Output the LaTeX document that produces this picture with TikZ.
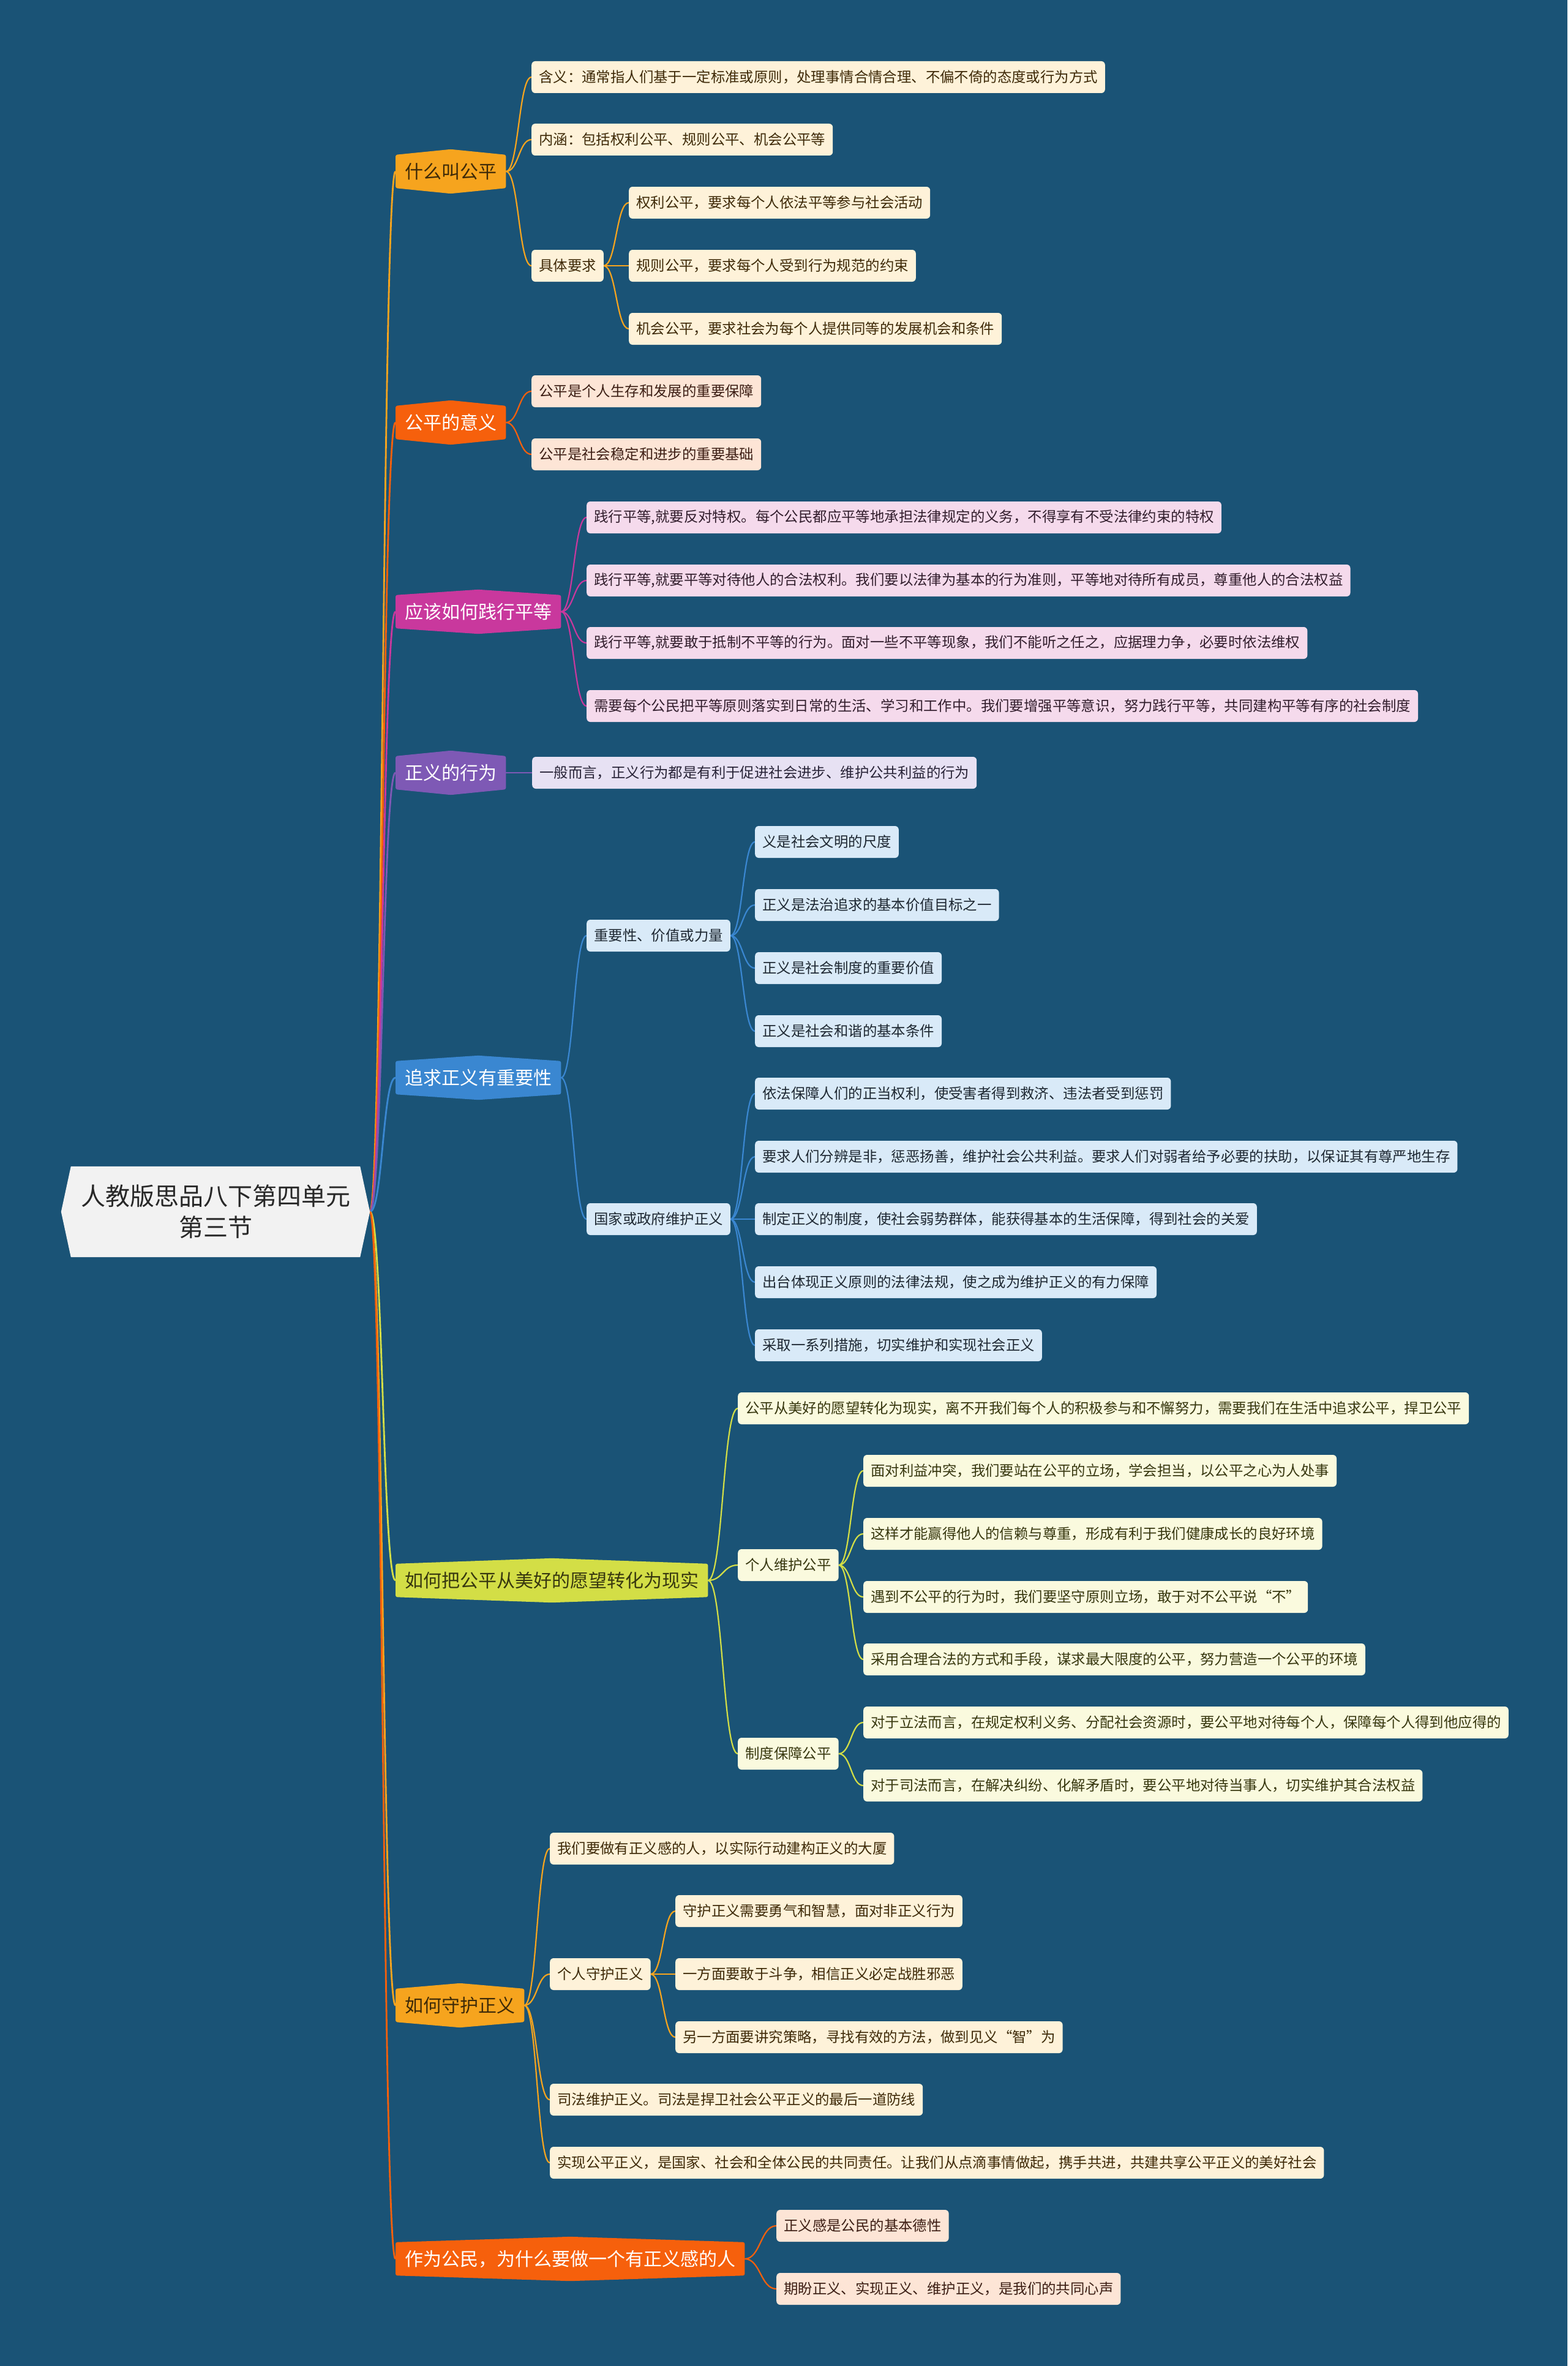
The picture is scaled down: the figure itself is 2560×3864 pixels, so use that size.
\documentclass[tikz,border=0pt]{standalone}
\usepackage{fontspec}
\setmainfont{Noto Sans CJK SC}
\usetikzlibrary{calc}
\pgfdeclarelayer{bg}\pgfdeclarelayer{edges}\pgfdeclarelayer{shapes}
\pgfsetlayers{bg,edges,shapes,main}
\definecolor{bgc}{RGB}{26,83,118}
\definecolor{cOr}{RGB}{246,164,30}
\definecolor{cRd}{RGB}{246,96,12}
\definecolor{cMg}{RGB}{201,56,157}
\definecolor{cPu}{RGB}{126,89,181}
\definecolor{cBl}{RGB}{58,135,209}
\definecolor{cYg}{RGB}{211,222,70}
\definecolor{lOr}{RGB}{254,242,217}
\definecolor{lRd}{RGB}{253,229,214}
\definecolor{lMg}{RGB}{245,218,236}
\definecolor{lPu}{RGB}{231,225,243}
\definecolor{lBl}{RGB}{217,234,248}
\definecolor{lYg}{RGB}{250,250,222}
\definecolor{tOr}{RGB}{62,42,8}
\definecolor{tRd}{RGB}{60,30,20}
\definecolor{tMg}{RGB}{50,30,45}
\definecolor{tPu}{RGB}{40,35,55}
\definecolor{tBl}{RGB}{30,40,50}
\definecolor{tYg}{RGB}{55,55,15}
\definecolor{rootF}{RGB}{242,242,242}
\definecolor{rootT}{RGB}{40,40,40}
\tikzset{
  leaf/.style={rounded corners=6pt, minimum height=52pt, inner xsep=12pt, inner ysep=0pt, anchor=west, font=\fontsize{23.4}{28}\selectfont},
  mainn/.style={minimum height=54pt, inner xsep=15pt, inner ysep=0pt, anchor=west, font=\fontsize{30}{36}\selectfont},
  rl/.style={line width=2.8pt},
  el/.style={line width=2.2pt},
}
\newcommand\mnode[6]{%
  \node[mainn,text=#5] (#1) at (#2,#3) {#6};
  \begin{pgfonlayer}{shapes}
  \fill[#4,rounded corners=3pt] (#1.north west) -- ([yshift=9pt]#1.north) -- (#1.north east) -- (#1.south east) -- ([yshift=-9pt]#1.south) -- (#1.south west) -- cycle;
  \end{pgfonlayer}}
\newcommand\lnk[3]{%
  \begin{pgfonlayer}{edges}
  \coordinate (tmpa) at (#2);
  \coordinate (tmpb) at (#3.west);
  \coordinate (tmpm) at ($(tmpa)!.5!(tmpb)$);
  \draw[#1] (tmpa) .. controls (tmpm |- tmpa) and (tmpm |- tmpb) .. (tmpb);
  \end{pgfonlayer}}
\begin{document}
\begin{tikzpicture}[x=1pt,y=-1pt]
\begin{pgfonlayer}{bg}
\fill[bgc] (0,0) rectangle (2560,3864);
\end{pgfonlayer}
\useasboundingbox (0,0) rectangle (2560,3864);

% root
\node[font=\fontsize{40}{51}\selectfont, align=center, text=rootT, minimum width=472pt, minimum height=148pt, inner sep=0pt] (root) at (352,1979) {人教版思品八下第四单元\\第三节};
\begin{pgfonlayer}{shapes}
\fill[rootF] (root.north west) -- ([xshift=-16pt]root.west) -- (root.south west) -- (root.south east) -- ([xshift=16pt]root.east) -- (root.north east) -- cycle;
\end{pgfonlayer}
\coordinate (rootE) at ([xshift=16pt]root.east);

% main branches
\mnode{m1}{646}{280}{cOr}{tOr}{什么叫公平}
\mnode{m2}{646}{690}{cRd}{white}{公平的意义}
\mnode{m3}{646}{999}{cMg}{white}{应该如何践行平等}
\mnode{m4}{646}{1262}{cPu}{white}{正义的行为}
\mnode{m5}{646}{1760}{cBl}{white}{追求正义有重要性}
\mnode{m6}{646}{2581}{cYg}{tYg}{如何把公平从美好的愿望转化为现实}
\mnode{m7}{646}{3275}{cOr}{tOr}{如何守护正义}
\mnode{m8}{646}{3689}{cRd}{white}{作为公民，为什么要做一个有正义感的人}

% group 1
\node[leaf,fill=lOr,text=tOr] (a1) at (868,126) {含义：通常指人们基于一定标准或原则，处理事情合情合理、不偏不倚的态度或行为方式};
\node[leaf,fill=lOr,text=tOr] (a2) at (868,228) {内涵：包括权利公平、规则公平、机会公平等};
\node[leaf,fill=lOr,text=tOr] (a3) at (868,434) {具体要求};
\node[leaf,fill=lOr,text=tOr] (a31) at (1027,331) {权利公平，要求每个人依法平等参与社会活动};
\node[leaf,fill=lOr,text=tOr] (a32) at (1027,434) {规则公平，要求每个人受到行为规范的约束};
\node[leaf,fill=lOr,text=tOr] (a33) at (1027,537) {机会公平，要求社会为每个人提供同等的发展机会和条件};

% group 2
\node[leaf,fill=lRd,text=tRd] (b1) at (868,639) {公平是个人生存和发展的重要保障};
\node[leaf,fill=lRd,text=tRd] (b2) at (868,742) {公平是社会稳定和进步的重要基础};

% group 3
\node[leaf,fill=lMg,text=tMg] (c1) at (958,845) {践行平等,就要反对特权。每个公民都应平等地承担法律规定的义务，不得享有不受法律约束的特权};
\node[leaf,fill=lMg,text=tMg] (c2) at (958,948) {践行平等,就要平等对待他人的合法权利。我们要以法律为基本的行为准则，平等地对待所有成员，尊重他人的合法权益};
\node[leaf,fill=lMg,text=tMg] (c3) at (958,1050) {践行平等,就要敢于抵制不平等的行为。面对一些不平等现象，我们不能听之任之，应据理力争，必要时依法维权};
\node[leaf,fill=lMg,text=tMg] (c4) at (958,1153) {需要每个公民把平等原则落实到日常的生活、学习和工作中。我们要增强平等意识，努力践行平等，共同建构平等有序的社会制度};

% group 4
\node[leaf,fill=lPu,text=tPu] (d1) at (869,1262) {一般而言，正义行为都是有利于促进社会进步、维护公共利益的行为};

% group 5
\node[leaf,fill=lBl,text=tBl] (e1) at (958,1528) {重要性、价值或力量};
\node[leaf,fill=lBl,text=tBl] (e2) at (958,1991) {国家或政府维护正义};
\node[leaf,fill=lBl,text=tBl] (e11) at (1233,1375) {义是社会文明的尺度};
\node[leaf,fill=lBl,text=tBl] (e12) at (1233,1478) {正义是法治追求的基本价值目标之一};
\node[leaf,fill=lBl,text=tBl] (e13) at (1233,1581) {正义是社会制度的重要价值};
\node[leaf,fill=lBl,text=tBl] (e14) at (1233,1684) {正义是社会和谐的基本条件};
\node[leaf,fill=lBl,text=tBl] (e21) at (1233,1786) {依法保障人们的正当权利，使受害者得到救济、违法者受到惩罚};
\node[leaf,fill=lBl,text=tBl] (e22) at (1233,1889) {要求人们分辨是非，惩恶扬善，维护社会公共利益。要求人们对弱者给予必要的扶助，以保证其有尊严地生存};
\node[leaf,fill=lBl,text=tBl] (e23) at (1233,1991) {制定正义的制度，使社会弱势群体，能获得基本的生活保障，得到社会的关爱};
\node[leaf,fill=lBl,text=tBl] (e24) at (1233,2094) {出台体现正义原则的法律法规，使之成为维护正义的有力保障};
\node[leaf,fill=lBl,text=tBl] (e25) at (1233,2197) {采取一系列措施，切实维护和实现社会正义};

% group 6
\node[leaf,fill=lYg,text=tYg] (f1) at (1205,2300) {公平从美好的愿望转化为现实，离不开我们每个人的积极参与和不懈努力，需要我们在生活中追求公平，捍卫公平};
\node[leaf,fill=lYg,text=tYg] (f2) at (1205,2556) {个人维护公平};
\node[leaf,fill=lYg,text=tYg] (f3) at (1205,2864) {制度保障公平};
\node[leaf,fill=lYg,text=tYg] (f21) at (1410,2402) {面对利益冲突，我们要站在公平的立场，学会担当，以公平之心为人处事};
\node[leaf,fill=lYg,text=tYg] (f22) at (1410,2505) {这样才能赢得他人的信赖与尊重，形成有利于我们健康成长的良好环境};
\node[leaf,fill=lYg,text=tYg] (f23) at (1410,2608) {遇到不公平的行为时，我们要坚守原则立场，敢于对不公平说“不”};
\node[leaf,fill=lYg,text=tYg] (f24) at (1410,2710) {采用合理合法的方式和手段，谋求最大限度的公平，努力营造一个公平的环境};
\node[leaf,fill=lYg,text=tYg] (f31) at (1410,2813) {对于立法而言，在规定权利义务、分配社会资源时，要公平地对待每个人，保障每个人得到他应得的};
\node[leaf,fill=lYg,text=tYg] (f32) at (1410,2916) {对于司法而言，在解决纠纷、化解矛盾时，要公平地对待当事人，切实维护其合法权益};

% group 7
\node[leaf,fill=lOr,text=tOr] (g1) at (898,3019) {我们要做有正义感的人，以实际行动建构正义的大厦};
\node[leaf,fill=lOr,text=tOr] (g2) at (898,3224) {个人守护正义};
\node[leaf,fill=lOr,text=tOr] (g21) at (1103,3121) {守护正义需要勇气和智慧，面对非正义行为};
\node[leaf,fill=lOr,text=tOr] (g22) at (1103,3224) {一方面要敢于斗争，相信正义必定战胜邪恶};
\node[leaf,fill=lOr,text=tOr] (g23) at (1103,3327) {另一方面要讲究策略，寻找有效的方法，做到见义“智”为};
\node[leaf,fill=lOr,text=tOr] (g3) at (898,3429) {司法维护正义。司法是捍卫社会公平正义的最后一道防线};
\node[leaf,fill=lOr,text=tOr] (g4) at (898,3532) {实现公平正义，是国家、社会和全体公民的共同责任。让我们从点滴事情做起，携手共进，共建共享公平正义的美好社会};

% group 8
\node[leaf,fill=lRd,text=tRd] (h1) at (1268,3635) {正义感是公民的基本德性};
\node[leaf,fill=lRd,text=tRd] (h2) at (1268,3738) {期盼正义、实现正义、维护正义，是我们的共同心声};

% connectors: root
\lnk{rl,cOr}{rootE}{m1}
\lnk{rl,cRd}{rootE}{m2}
\lnk{rl,cMg}{rootE}{m3}
\lnk{rl,cPu}{rootE}{m4}
\lnk{rl,cBl}{rootE}{m5}
\lnk{rl,cYg}{rootE}{m6}
\lnk{rl,cOr}{rootE}{m7}
\lnk{rl,cRd}{rootE}{m8}
% group 1
\lnk{el,cOr}{m1.east}{a1}
\lnk{el,cOr}{m1.east}{a2}
\lnk{el,cOr}{m1.east}{a3}
\lnk{el,cOr}{a3.east}{a31}
\lnk{el,cOr}{a3.east}{a32}
\lnk{el,cOr}{a3.east}{a33}
% group 2
\lnk{el,cRd}{m2.east}{b1}
\lnk{el,cRd}{m2.east}{b2}
% group 3
\lnk{el,cMg}{m3.east}{c1}
\lnk{el,cMg}{m3.east}{c2}
\lnk{el,cMg}{m3.east}{c3}
\lnk{el,cMg}{m3.east}{c4}
% group 4
\lnk{el,cPu}{m4.east}{d1}
% group 5
\lnk{el,cBl}{m5.east}{e1}
\lnk{el,cBl}{m5.east}{e2}
\lnk{el,cBl}{e1.east}{e11}
\lnk{el,cBl}{e1.east}{e12}
\lnk{el,cBl}{e1.east}{e13}
\lnk{el,cBl}{e1.east}{e14}
\lnk{el,cBl}{e2.east}{e21}
\lnk{el,cBl}{e2.east}{e22}
\lnk{el,cBl}{e2.east}{e23}
\lnk{el,cBl}{e2.east}{e24}
\lnk{el,cBl}{e2.east}{e25}
% group 6
\lnk{el,cYg}{m6.east}{f1}
\lnk{el,cYg}{m6.east}{f2}
\lnk{el,cYg}{m6.east}{f3}
\lnk{el,cYg}{f2.east}{f21}
\lnk{el,cYg}{f2.east}{f22}
\lnk{el,cYg}{f2.east}{f23}
\lnk{el,cYg}{f2.east}{f24}
\lnk{el,cYg}{f3.east}{f31}
\lnk{el,cYg}{f3.east}{f32}
% group 7
\lnk{el,cOr}{m7.east}{g1}
\lnk{el,cOr}{m7.east}{g2}
\lnk{el,cOr}{m7.east}{g3}
\lnk{el,cOr}{m7.east}{g4}
\lnk{el,cOr}{g2.east}{g21}
\lnk{el,cOr}{g2.east}{g22}
\lnk{el,cOr}{g2.east}{g23}
% group 8
\lnk{el,cRd}{m8.east}{h1}
\lnk{el,cRd}{m8.east}{h2}
\end{tikzpicture}
\end{document}
